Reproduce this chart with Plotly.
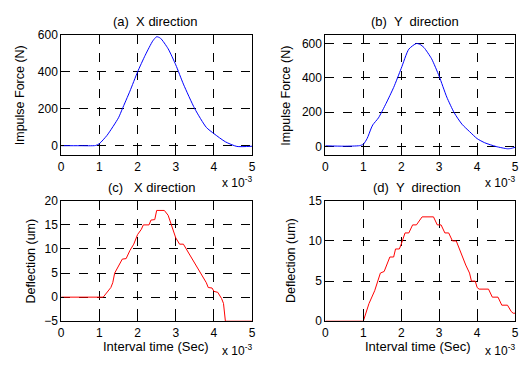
import plotly.graph_objects as go

# ---- data (time in units of 1e-3 s) ----
ax_t = [0, 0.5, 0.9, 1.0, 1.2, 1.5, 1.6, 1.8, 2.0, 2.2, 2.4, 2.5, 2.6, 2.8, 3.0, 3.2, 3.5, 3.8, 4.0, 4.3, 4.6, 5.0]
ax_f = [1, 1, 2, 12, 57, 152, 200, 296, 400, 490, 568, 590, 582, 525, 438, 334, 200, 100, 66, 22, -3, -2]

by_t = [0, 0.5, 0.9, 1.0, 1.1, 1.2, 1.25, 1.4, 1.6, 1.8, 2.0, 2.2, 2.4, 2.5, 2.6, 2.8, 3.0, 3.2, 3.4, 3.6, 3.8, 4.0, 4.2, 4.5, 4.8, 4.9, 5.0]
by_f = [4, 2, 5, 13, 46, 102, 126, 167, 251, 344, 455, 567, 600, 594, 576, 511, 409, 288, 195, 130, 87, 46, 22, 0, -13, -11, -4]

cx_t = [0, 1.1, 1.3, 1.35, 1.4, 1.6, 1.7, 1.8, 1.9, 2.0, 2.1, 2.15, 2.3, 2.35, 2.45, 2.5, 2.7, 2.8, 3.0, 3.05, 3.1, 3.2, 3.4, 3.6, 3.8, 3.85, 3.95, 4.0, 4.1, 4.2, 4.25, 4.3, 5.0]
cx_d = [0, 0, 2, 3, 5, 7.9, 8, 9.7, 11, 13, 14.1, 15, 15, 16, 16.1, 18, 18, 17, 12.3, 11.7, 11, 11, 8.3, 5.7, 3, 2, 1.9, 1.2, 1, -0.3, -1.3, -5, -5]

dy_t = [0, 1.0, 1.15, 1.3, 1.45, 1.55, 1.7, 1.8, 1.85, 1.95, 2.0, 2.1, 2.2, 2.3, 2.4, 2.55, 2.85, 2.95, 3.05, 3.15, 3.25, 3.35, 3.45, 3.6, 3.7, 3.8, 3.85, 3.95, 4.0, 4.05, 4.3, 4.4, 4.55, 4.65, 4.8, 4.9, 4.95, 5.0]
dy_d = [0, 0, 2.2, 3.8, 6, 6.2, 8, 8, 9, 9, 9.6, 11, 11, 12, 12, 13, 13, 12, 12, 11, 11, 10, 10, 8.1, 7, 6, 5, 5, 4.2, 4, 4, 3, 3, 2, 2, 1.2, 1, 1]

titles = ["(a)  X direction", "(b)  Y  direction", "(c)   X direction", "(d)  Y  direction"]
ylabels = ["Impulse Force (N)", "Impulse Force (N)", "Deflection (um)", "Deflection (um)"]
xlabel = "Interval time (Sec)"
xticks = [0, 1, 2, 3, 4, 5]

W, H = 525, 367
def px(x): return x / W
def py(y): return 1 - y / H

FONT = "Liberation Sans, Arial, sans-serif"
FS = 12
fig = go.Figure()
fig.add_trace(go.Scatter(x=ax_t, y=ax_f, mode="lines", line=dict(color="#0000ff", width=1, shape="spline", smoothing=0.6), xaxis="x", yaxis="y"))
fig.add_trace(go.Scatter(x=by_t, y=by_f, mode="lines", line=dict(color="#0000ff", width=1, shape="spline", smoothing=0.6), xaxis="x2", yaxis="y2"))
fig.add_trace(go.Scatter(x=cx_t, y=cx_d, mode="lines", line=dict(color="#ff0000", width=1), xaxis="x3", yaxis="y3"))
fig.add_trace(go.Scatter(x=dy_t, y=dy_d, mode="lines", line=dict(color="#ff0000", width=1), xaxis="x4", yaxis="y4"))

common = dict(showline=True, mirror=True, linecolor="black", linewidth=1,
              showgrid=True, gridcolor="black", gridwidth=1, griddash="dash",
              zeroline=False, ticks="inside", ticklen=3, tickcolor="black",
              tickfont=dict(family=FONT, size=FS, color="black"))

xdom_l = [px(59), px(252.5)]
xdom_r = [px(326.7), px(519)]
ydom_t = [py(154), py(29)]
ydom_b = [py(326.7), py(201.5)]

layout = dict(
    width=W, height=H, margin=dict(l=0, r=0, t=0, b=0),
    paper_bgcolor="white", plot_bgcolor="white", showlegend=False,
    xaxis=dict(domain=xdom_l, anchor="y", range=[0, 5], tickvals=xticks, **common),
    yaxis=dict(domain=ydom_t, anchor="x", range=[-50, 600], tickvals=[0, 200, 400, 600], **common),
    xaxis2=dict(domain=xdom_r, anchor="y2", range=[0, 5], tickvals=xticks, **common),
    yaxis2=dict(domain=ydom_t, anchor="x2", range=[-50, 650], tickvals=[0, 200, 400, 600], **common),
    xaxis3=dict(domain=xdom_l, anchor="y3", range=[0, 5], tickvals=xticks, **common),
    yaxis3=dict(domain=ydom_b, anchor="x3", range=[-5, 20], tickvals=[-5, 0, 5, 10, 15, 20], **common),
    xaxis4=dict(domain=xdom_r, anchor="y4", range=[0, 5], tickvals=xticks, **common),
    yaxis4=dict(domain=ydom_b, anchor="x4", range=[0, 15], tickvals=[0, 5, 10, 15], **common),
)
fig.update_layout(**layout)

ann = []
def txt(text, x, y, size=FS, angle=0, xanchor="center", yanchor="middle"):
    ann.append(dict(text=text, x=px(x), y=py(y), xref="paper", yref="paper", showarrow=False,
                    font=dict(family=FONT, size=size, color="black"), textangle=angle,
                    xanchor=xanchor, yanchor=yanchor))

txt(titles[0], 155, 15, size=13)
txt(titles[1], 418, 15, size=13)
txt(titles[2], 150, 188, size=13)
txt(titles[3], 420, 188, size=13)
txt(ylabels[0], 18, 92, size=12.5, angle=-90)
txt(ylabels[1], 287, 92, size=12.5, angle=-90)
txt(ylabels[2], 28, 264, size=12.5, angle=-90)
txt(ylabels[3], 292, 264, size=12.5, angle=-90)
txt(xlabel, 155, 353, size=13)
txt(xlabel, 420, 353, size=13)
for xr, yy in [(254, 182), (521, 182), (254, 357), (521, 357)]:
    txt("x 10<sup>-3</sup>", xr, yy, xanchor="right")
fig.update_layout(annotations=ann)

fig.write_html("out.html", config={"displayModeBar": False},
               post_script="document.body.style.margin='0px';document.body.style.overflow='hidden';")
